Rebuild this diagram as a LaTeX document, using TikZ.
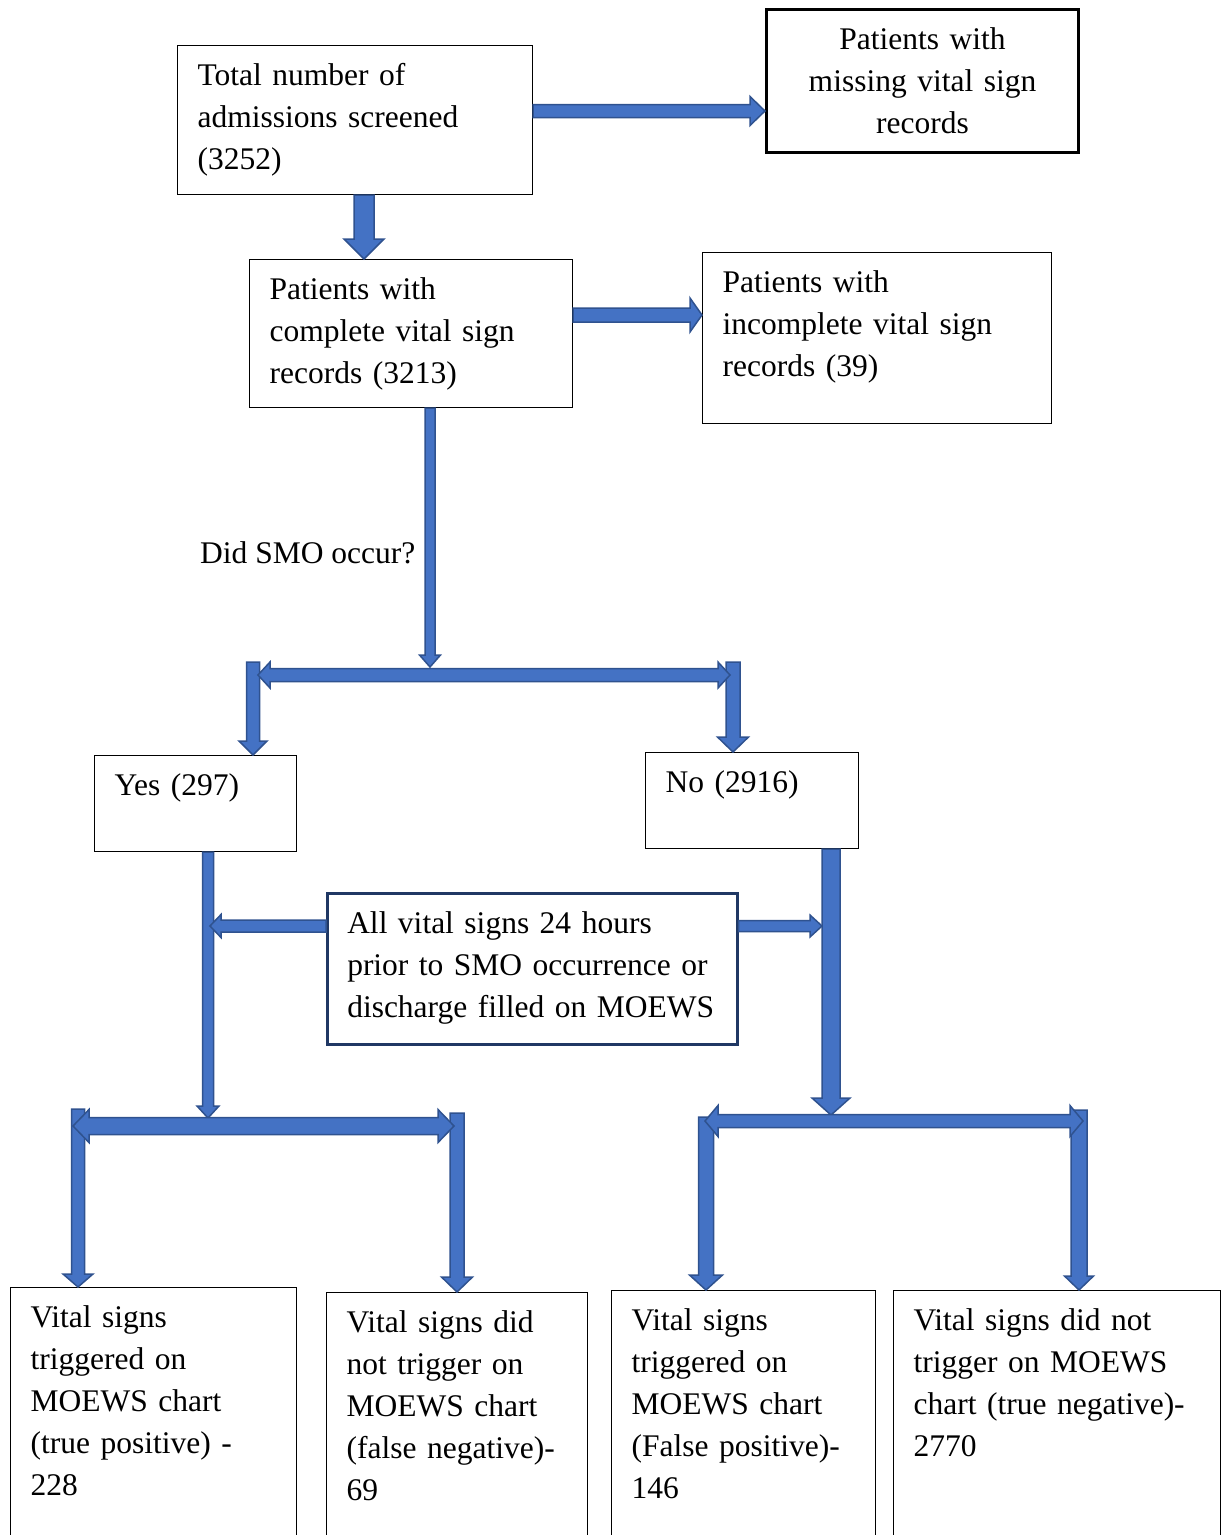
\documentclass[tikz,border=0pt]{standalone}
\usepackage{fontspec}
\setmainfont{Liberation Serif}
\usetikzlibrary{calc}

\definecolor{arrowfill}{HTML}{4472C4}
\definecolor{arrowline}{HTML}{2F528F}
\definecolor{navy}{HTML}{203864}

% block arrow: half shaft, half head, head length, from, to
\newcommand{\blockarrow}[5]{%
  \coordinate (ba-a) at (#4);
  \coordinate (ba-b) at (#5);
  \coordinate (ba-n) at ($(ba-b)!#3!(ba-a)$);
  \draw[blockarr] ($(ba-a)!#1!90:(ba-b)$) -- ($(ba-n)!#1!-90:(ba-a)$)
    -- ($(ba-n)!#2!-90:(ba-a)$) -- (ba-b) -- ($(ba-n)!#2!90:(ba-a)$)
    -- ($(ba-n)!#1!90:(ba-a)$) -- ($(ba-a)!#1!-90:(ba-b)$) -- cycle;
}
% same, with a head at both ends
\newcommand{\dblockarrow}[5]{%
  \coordinate (ba-a) at (#4);
  \coordinate (ba-b) at (#5);
  \coordinate (ba-m) at ($(ba-a)!#3!(ba-b)$);
  \coordinate (ba-n) at ($(ba-b)!#3!(ba-a)$);
  \draw[blockarr] (ba-a) -- ($(ba-m)!#2!90:(ba-b)$) -- ($(ba-m)!#1!90:(ba-b)$)
    -- ($(ba-n)!#1!-90:(ba-a)$) -- ($(ba-n)!#2!-90:(ba-a)$) -- (ba-b)
    -- ($(ba-n)!#2!90:(ba-a)$) -- ($(ba-n)!#1!90:(ba-a)$)
    -- ($(ba-m)!#1!-90:(ba-b)$) -- ($(ba-m)!#2!-90:(ba-b)$) -- cycle;
}

\begin{document}
\begin{tikzpicture}[x=1pt,y=-1pt,
    box/.style={draw,rectangle,anchor=north west,align=left,line width=1.2pt,
      font=\fontsize{31.5}{42}\selectfont,inner xsep=20pt,inner ysep=19pt,text height=21pt},
    blockarr/.style={fill=arrowfill,draw=arrowline,line width=1.5pt,line join=miter}]
  \useasboundingbox (0,0) rectangle (1227,1535);
  \clip (0,0) rectangle (1227,1535);

  % boxes
  \node[box,text width=315pt,text depth=90pt] (total) at (177,45)
    {Total number of\\admissions screened\\(3252)};
  \node[box,text width=272pt,text depth=84pt,align=center,line width=3pt] (missing) at (765,8)
    {Patients with\\missing vital sign\\records};
  \node[box,text width=283pt,text depth=89pt] (complete) at (249,259)
    {Patients with\\complete vital sign\\records (3213)};
  \node[box,text width=309pt,text depth=112pt] (incomplete) at (702,252)
    {Patients with\\incomplete vital sign\\records (39)};
  \node[anchor=base west,font=\fontsize{31.5}{42}\selectfont,inner sep=0pt] (smo) at (200,563)
    {Did SMO occur?};
  \node[box,text width=162pt,text depth=37pt] (yes) at (94,755) {Yes (297)};
  \node[box,text width=173pt,text depth=37pt] (no) at (645,752) {No (2916)};
  \node[box,text width=370pt,text depth=92pt,draw=navy,line width=2.5pt] (allvital) at (326,892)
    {All vital signs 24 hours\\prior to SMO occurrence or\\discharge filled on MOEWS};
  \node[box,text width=246pt,text depth=300pt] (tp) at (10,1287)
    {Vital signs\\triggered on\\MOEWS chart\\(true positive) -\\228};
  \node[box,text width=221pt,text depth=300pt] (fn) at (326,1292)
    {Vital signs did\\not trigger on\\MOEWS chart\\(false negative)-\\69};
  \node[box,text width=224pt,text depth=300pt] (fp) at (611,1290)
    {Vital signs\\triggered on\\MOEWS chart\\(False positive)-\\146};
  \node[box,text width=287pt,text depth=300pt] (tn) at (893,1290)
    {Vital signs did not\\trigger on MOEWS\\chart (true negative)-\\2770};

  % split points
  \coordinate (split1) at (430,667);
  \coordinate (splityes) at (208,1118);
  \coordinate (splitno) at (831,1115);

  % arrows
  \blockarrow{6.5pt}{14.5pt}{15pt}{total.east |- 0,111}{missing.west |- 0,111}
  \blockarrow{10pt}{20pt}{20pt}{364,0 |- total.south}{364,0 |- complete.north}
  \blockarrow{7pt}{17pt}{12pt}{complete.east |- 0,315}{incomplete.west |- 0,315}
  \blockarrow{5pt}{10.5pt}{12pt}{430,0 |- complete.south}{split1}
  \blockarrow{6.5pt}{14pt}{14pt}{253,662}{253,0 |- yes.north}
  \blockarrow{7pt}{15.5pt}{15pt}{733,662}{733,0 |- no.north}
  \dblockarrow{6.5pt}{13pt}{12pt}{258,675}{730,675}

  \blockarrow{5.5pt}{11pt}{12pt}{208,0 |- yes.south}{splityes}
  \blockarrow{6pt}{11.5pt}{11pt}{allvital.west |- 0,926}{210,926}
  \blockarrow{5.5pt}{11pt}{12pt}{allvital.east |- 0,926}{822,926}
  \blockarrow{9pt}{19pt}{17pt}{831,0 |- no.south}{splitno}

  \blockarrow{6.5pt}{15pt}{13pt}{78,1109}{78,0 |- tp.north}
  \blockarrow{7pt}{15.5pt}{15pt}{457,1113}{457,0 |- fn.north}
  \dblockarrow{8.5pt}{16.5pt}{16pt}{73,1126}{454,1126}
  \blockarrow{7.5pt}{16.5pt}{15pt}{706,1117}{706,0 |- fp.north}
  \blockarrow{8pt}{14.5pt}{14pt}{1079,1110}{1079,0 |- tn.north}
  \dblockarrow{6.5pt}{15.5pt}{13pt}{705,1121}{1083,1121}
\end{tikzpicture}
\end{document}
